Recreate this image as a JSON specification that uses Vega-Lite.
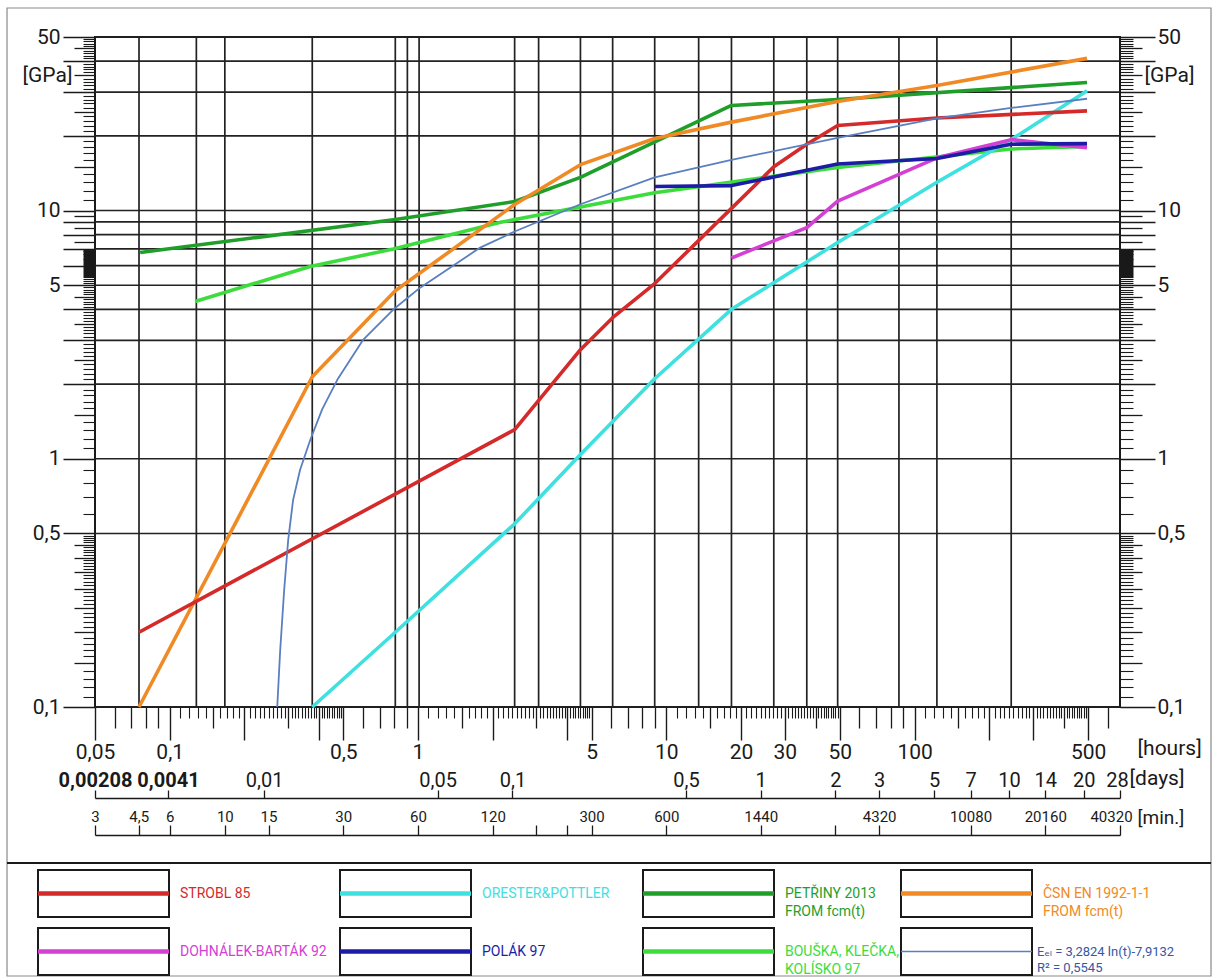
{
 "$schema": "https://vega.github.io/schema/vega-lite/v6.json",
 "width": 1025,
 "height": 670,
 "autosize": {"type": "none"},
 "padding": {"left": 95, "top": 37, "right": 98, "bottom": 270},
 "background": "white",
 "config": {
  "view": {"stroke": "#1a1a1a", "strokeWidth": 2},
  "axis": {"grid": false, "domain": false, "tickColor": "#1a1a1a", "tickWidth": 1.3, "labelFont": "Roboto, DejaVu Sans, sans-serif", "labelFontSize": 21, "labelColor": "#1a1a1a", "labelOverlap": false, "labelFlush": false, "labelBound": false, "titleFont": "Roboto, DejaVu Sans, sans-serif", "titleFontSize": 21, "titleFontWeight": "normal", "titleColor": "#1a1a1a", "titlePadding": 0}
 },
 "datasets": {
  "hgrid": [{"E":0.1},{"E":0.5},{"E":1},{"E":2},{"E":3},{"E":4},{"E":5},{"E":6},{"E":7},{"E":8},{"E":9},{"E":10},{"E":20},{"E":30},{"E":40},{"E":50}],
  "vgrid": [{"h":0.0752},{"h":0.128},{"h":0.1667},{"h":0.375},{"h":0.81},{"h":0.906},{"h":1.01},{"h":2.45},{"h":3.06},{"h":4.51},{"h":6.08},{"h":8.98},{"h":13.5},{"h":18.3},{"h":27.1},{"h":36.8},{"h":49},{"h":86.5},{"h":123},{"h":245}],
  "series": [
   {"s":"BOUŠKA, KLEČKA, KOLÍSKO 97","h":0.1265,"E":4.3},{"s":"BOUŠKA, KLEČKA, KOLÍSKO 97","h":0.368,"E":5.95},{"s":"BOUŠKA, KLEČKA, KOLÍSKO 97","h":0.795,"E":7.0},{"s":"BOUŠKA, KLEČKA, KOLÍSKO 97","h":2.15,"E":8.96},{"s":"BOUŠKA, KLEČKA, KOLÍSKO 97","h":8.98,"E":11.8},{"s":"BOUŠKA, KLEČKA, KOLÍSKO 97","h":49,"E":14.9},{"s":"BOUŠKA, KLEČKA, KOLÍSKO 97","h":245,"E":17.7},{"s":"BOUŠKA, KLEČKA, KOLÍSKO 97","h":495,"E":18.1},
   {"s":"PETŘINY 2013","h":0.076,"E":6.77},{"s":"PETŘINY 2013","h":0.81,"E":9.2},{"s":"PETŘINY 2013","h":2.45,"E":10.87},{"s":"PETŘINY 2013","h":4.51,"E":13.6},{"s":"PETŘINY 2013","h":18.3,"E":26.5},{"s":"PETŘINY 2013","h":49,"E":28.0},{"s":"PETŘINY 2013","h":495,"E":32.8},
   {"s":"ČSN EN 1992-1-1","h":0.0752,"E":0.1},{"s":"ČSN EN 1992-1-1","h":0.375,"E":2.14},{"s":"ČSN EN 1992-1-1","h":0.81,"E":4.75},{"s":"ČSN EN 1992-1-1","h":2.45,"E":10.57},{"s":"ČSN EN 1992-1-1","h":4.51,"E":15.3},{"s":"ČSN EN 1992-1-1","h":8.98,"E":19.5},{"s":"ČSN EN 1992-1-1","h":18.3,"E":22.7},{"s":"ČSN EN 1992-1-1","h":49,"E":27.5},{"s":"ČSN EN 1992-1-1","h":123,"E":31.9},{"s":"ČSN EN 1992-1-1","h":495,"E":41.0},
   {"s":"ORESTER&POTTLER","h":0.375,"E":0.1},{"s":"ORESTER&POTTLER","h":0.81,"E":0.2},{"s":"ORESTER&POTTLER","h":2.45,"E":0.547},{"s":"ORESTER&POTTLER","h":4.51,"E":1.04},{"s":"ORESTER&POTTLER","h":8.98,"E":2.1},{"s":"ORESTER&POTTLER","h":18.3,"E":4.0},{"s":"ORESTER&POTTLER","h":49,"E":7.43},{"s":"ORESTER&POTTLER","h":123,"E":13.0},{"s":"ORESTER&POTTLER","h":245,"E":19.3},{"s":"ORESTER&POTTLER","h":495,"E":30.4},
   {"s":"STROBL 85","h":0.0752,"E":0.2},{"s":"STROBL 85","h":2.45,"E":1.31},{"s":"STROBL 85","h":4.51,"E":2.75},{"s":"STROBL 85","h":6.08,"E":3.7},{"s":"STROBL 85","h":8.98,"E":5.08},{"s":"STROBL 85","h":18.3,"E":10.2},{"s":"STROBL 85","h":27.1,"E":15.0},{"s":"STROBL 85","h":36.8,"E":18.5},{"s":"STROBL 85","h":49,"E":22.0},{"s":"STROBL 85","h":123,"E":23.6},{"s":"STROBL 85","h":495,"E":25.2},
   {"s":"DOHNÁLEK-BARTÁK 92","h":18.3,"E":6.44},{"s":"DOHNÁLEK-BARTÁK 92","h":36.8,"E":8.53},{"s":"DOHNÁLEK-BARTÁK 92","h":49,"E":10.9},{"s":"DOHNÁLEK-BARTÁK 92","h":123,"E":16.3},{"s":"DOHNÁLEK-BARTÁK 92","h":245,"E":19.3},{"s":"DOHNÁLEK-BARTÁK 92","h":495,"E":17.9},
   {"s":"POLÁK 97","h":8.98,"E":12.5},{"s":"POLÁK 97","h":18.3,"E":12.6},{"s":"POLÁK 97","h":49,"E":15.4},{"s":"POLÁK 97","h":123,"E":16.2},{"s":"POLÁK 97","h":245,"E":18.5},{"s":"POLÁK 97","h":495,"E":18.6},
   {"s":"FIT","h":0.271,"E":0.1},{"s":"FIT","h":0.2786,"E":0.17},{"s":"FIT","h":0.289,"E":0.296},{"s":"FIT","h":0.3,"E":0.471},{"s":"FIT","h":0.314,"E":0.683},{"s":"FIT","h":0.335,"E":0.903},{"s":"FIT","h":0.368,"E":1.19},{"s":"FIT","h":0.411,"E":1.58},{"s":"FIT","h":0.473,"E":2.08},{"s":"FIT","h":0.602,"E":3.02},{"s":"FIT","h":0.795,"E":3.99},{"s":"FIT","h":1.02,"E":4.89},{"s":"FIT","h":1.78,"E":7.09},{"s":"FIT","h":2.45,"E":8.23},{"s":"FIT","h":4.51,"E":10.6},{"s":"FIT","h":8.98,"E":13.6},{"s":"FIT","h":18.3,"E":16.0},{"s":"FIT","h":49,"E":19.6},{"s":"FIT","h":123,"E":23.5},{"s":"FIT","h":245,"E":25.9},{"s":"FIT","h":495,"E":28.2}
  ],
  "legend": [
   {"s":"STROBL 85","label":"STROBL 85","col":0,"row":0},
   {"s":"ORESTER&POTTLER","label":"ORESTER&POTTLER","col":1,"row":0},
   {"s":"PETŘINY 2013","label":"PETŘINY 2013\nFROM fcm(t)","col":2,"row":0},
   {"s":"ČSN EN 1992-1-1","label":"ČSN EN 1992-1-1\nFROM fcm(t)","col":3,"row":0},
   {"s":"DOHNÁLEK-BARTÁK 92","label":"DOHNÁLEK-BARTÁK 92","col":0,"row":1},
   {"s":"POLÁK 97","label":"POLÁK 97","col":1,"row":1},
   {"s":"BOUŠKA, KLEČKA, KOLÍSKO 97","label":"BOUŠKA, KLEČKA,\nKOLÍSKO 97","col":2,"row":1},
   {"s":"FIT","label":"Eₑₗ = 3,2824 ln(t)-7,9132\nR² = 0,5545","col":3,"row":1}
  ]
 },
 "layer": [
  {
   "resolve": {"axis": {"x": "independent", "y": "independent"}},
   "layer": [
    {
     "data": {"name": "hgrid"},
     "mark": {"type": "rule", "stroke": "#222222", "strokeWidth": 1.7},
     "encoding": {"y": {"field": "E", "type": "quantitative", "scale": {"type": "log", "domain": [0.1, 50], "nice": false},
      "axis": {"orient": "left", "title": null, "values": [0.1,0.5,1,2,3,4,5,6,7,8,9,10,20,30,40,50], "tickSize": 32, "tickWidth": 1.7, "labelPadding": 3,
       "labelExpr": "indexof([0.1,0.5,1,5,10,50], datum.value) >= 0 ? replace(format(datum.value,'~g'),'.',',') : ''"}}}
    },
    {
     "data": {"name": "vgrid"},
     "mark": {"type": "rule", "stroke": "#222222", "strokeWidth": 1.7},
     "encoding": {"x": {"field": "h", "type": "quantitative", "scale": {"type": "log", "domain": [0.05, 672], "nice": false},
      "axis": {"orient": "bottom", "offset": 91, "title": "[days]", "titleX": 1034, "titleY": -20, "titleAlign": "left", "titleBaseline": "middle",
       "values": [0.05,0.0984,0.24,1.2,2.4,12,24,48,72,120,168,240,336,480,672], "ticks": false, "domain": true, "domainColor": "#1a1a1a", "domainWidth": 1.6,
       "labelPadding": -12, "labelBaseline": "alphabetic", "labelFontSize": 20,
       "labelOffset": {"condition": {"test": "datum.value > 600", "value": -3}, "value": 0},
       "labelFontWeight": {"condition": {"test": "datum.value < 0.11", "value": "bold"}, "value": "normal"},
       "labelExpr": "replace(format(datum.value/24,'.3~r'),'.',',')"}}}
    },
    {
     "data": {"name": "vgrid"},
     "mark": {"type": "rule", "opacity": 0},
     "encoding": {"x": {"field": "h", "type": "quantitative", "scale": {"type": "log", "domain": [0.05, 672], "nice": false},
      "axis": {"orient": "bottom", "offset": 91, "title": null, "labels": false, "tickSize": -8, "tickWidth": 1.3,
       "values": [0.05,0.0984,0.24,1.2,2.4,12,24,48,72,120,168,240,336,480,672]}}}
    },
    {
     "data": {"name": "vgrid"},
     "mark": {"type": "rule", "opacity": 0},
     "encoding": {"x": {"field": "h", "type": "quantitative", "scale": {"type": "log", "domain": [0.05, 672], "nice": false},
      "axis": {"orient": "bottom", "offset": 128, "title": "[min.]", "titleX": 1042, "titleY": -18, "titleAlign": "left", "titleBaseline": "middle", "titleFontSize": 19,
       "ticks": false, "domain": true, "domainColor": "#1a1a1a", "domainWidth": 1.6,
       "labelPadding": -14, "labelBaseline": "alphabetic", "labelFontSize": 15,
       "labelOffset": {"condition": {"test": "datum.value > 600", "value": -9}, "value": 0},
       "values": [0.05,0.075,0.1,0.16667,0.25,0.5,1,2,5,10,24,72,168,336,672],
       "labelExpr": "replace(format(round(datum.value*600)/10,'~g'),'.',',')"}}}
    },
    {
     "data": {"name": "vgrid"},
     "mark": {"type": "rule", "opacity": 0},
     "encoding": {"x": {"field": "h", "type": "quantitative", "scale": {"type": "log", "domain": [0.05, 672], "nice": false},
      "axis": {"orient": "bottom", "offset": 128, "title": null, "labels": false, "tickSize": -10, "tickWidth": 1.3,
       "values": [0.05,0.075,0.1,0.16667,0.25,0.5,1,2,3,4,5,10,24,48,72,168,336,672]}}}
    },
    {
     "data": {"name": "vgrid"},
     "mark": {"type": "rule", "opacity": 0},
     "encoding": {"x": {"field": "h", "type": "quantitative", "scale": {"type": "log", "domain": [0.05, 672], "nice": false},
      "axis": {"orient": "bottom", "title": null, "labels": false, "tickSize": 21, "tickWidth": 1.3,
       "values": [0.06,0.07,0.08,0.09,0.15,0.3,0.6,0.7,0.8,0.9,1.5,3,6,7,8,9,15,40,60,70,80,90,150,400,600]}}}
    },
    {
     "data": {"name": "vgrid"},
     "mark": {"type": "rule", "opacity": 0},
     "encoding": {"x": {"field": "h", "type": "quantitative", "scale": {"type": "log", "domain": [0.05, 672], "nice": false},
      "axis": {"orient": "bottom", "title": null, "labels": false, "tickSize": 11, "tickWidth": 1.1,
       "values": [0.11,0.12,0.13,0.14,0.16,0.17,0.18,0.19,0.21,0.22,0.23,0.24,0.25,0.26,0.27,0.28,0.29,0.31,0.32,0.33,0.34,0.35,0.36,0.37,0.38,0.39,0.41,0.42,0.43,0.44,0.45,0.46,0.47,0.48,0.49,1.1,1.2,1.3,1.4,1.6,1.7,1.8,1.9,2.1,2.2,2.3,2.4,2.5,2.6,2.7,2.8,2.9,3.1,3.2,3.3,3.4,3.5,3.6,3.7,3.8,3.9,4.1,4.2,4.3,4.4,4.5,4.6,4.7,4.8,4.9,11,12,13,14,16,17,18,19,21,22,23,24,25,26,27,28,29,31,32,33,34,35,36,37,38,39,41,42,43,44,45,46,47,48,49,110,120,130,140,160,170,180,190,210,220,230,240,250,260,270,280,290,310,320,330,340,350,360,370,380,390,410,420,430,440,450,460,470,480,490]}}}
    },
    {
     "data": {"name": "hgrid"},
     "mark": {"type": "rule", "opacity": 0},
     "encoding": {"y": {"field": "E", "type": "quantitative", "scale": {"type": "log", "domain": [0.1, 50], "nice": false},
      "axis": {"orient": "left", "title": null, "tickSize": 21, "tickWidth": 1.3, "labelPadding": 2,
       "values": [0.15,0.2,0.25,0.3,0.35,0.4,0.45,1.5,2.5,3.5,4.5,7.5,8.5,9.5,15,25,35,45],
       "labelExpr": "datum.value == 35 ? '[GPa]' : ''"}}}
    },
    {
     "data": {"name": "hgrid"},
     "mark": {"type": "rule", "opacity": 0},
     "encoding": {"y": {"field": "E", "type": "quantitative", "scale": {"type": "log", "domain": [0.1, 50], "nice": false},
      "axis": {"orient": "left", "title": null, "labels": false, "tickSize": 12, "tickWidth": 1.1,
       "values": [0.11,0.12,0.13,0.14,0.16,0.17,0.18,0.19,0.21,0.22,0.23,0.24,0.26,0.27,0.28,0.29,0.31,0.32,0.33,0.34,0.36,0.37,0.38,0.39,0.41,0.42,0.43,0.44,0.46,0.47,0.48,0.49,0.6,0.7,0.8,0.9,1.1,1.2,1.3,1.4,1.6,1.7,1.8,1.9,2.1,2.2,2.3,2.4,2.6,2.7,2.8,2.9,3.1,3.2,3.3,3.4,3.6,3.7,3.8,3.9,4.1,4.2,4.3,4.4,4.6,4.7,4.8,4.9,5.1,5.2,5.3,5.4,5.45,5.5,5.55,5.6,5.65,5.7,5.75,5.8,5.85,5.9,5.95,6.05,6.1,6.15,6.2,6.25,6.3,6.35,6.4,6.45,6.5,6.55,6.6,6.65,6.7,6.75,6.8,6.85,6.9,6.95,11,12,13,14,16,17,18,19,21,22,23,24,26,27,28,29,31,32,33,34,36,37,38,39,41,42,43,44,46,47,48,49]}}}
    },
    {
     "data": {"name": "hgrid"},
     "mark": {"type": "rule", "opacity": 0},
     "encoding": {"y": {"field": "E", "type": "quantitative", "scale": {"type": "log", "domain": [0.1, 50], "nice": false},
      "axis": {"orient": "right", "title": null, "tickSize": 22, "tickWidth": 1.3, "labelPadding": 2,
       "values": [0.15,0.2,0.25,0.3,0.35,0.4,0.45,1.5,2.5,3.5,4.5,7.5,8.5,9.5,15,25,35,45],
       "labelExpr": "datum.value == 35 ? '[GPa]' : ''"}}}
    },
    {
     "data": {"name": "hgrid"},
     "mark": {"type": "rule", "opacity": 0},
     "encoding": {"y": {"field": "E", "type": "quantitative", "scale": {"type": "log", "domain": [0.1, 50], "nice": false},
      "axis": {"orient": "right", "title": null, "labels": false, "tickSize": 13, "tickWidth": 1.1,
       "values": [0.11,0.12,0.13,0.14,0.16,0.17,0.18,0.19,0.21,0.22,0.23,0.24,0.26,0.27,0.28,0.29,0.31,0.32,0.33,0.34,0.36,0.37,0.38,0.39,0.41,0.42,0.43,0.44,0.46,0.47,0.48,0.49,0.6,0.7,0.8,0.9,1.1,1.2,1.3,1.4,1.6,1.7,1.8,1.9,2.1,2.2,2.3,2.4,2.6,2.7,2.8,2.9,3.1,3.2,3.3,3.4,3.6,3.7,3.8,3.9,4.1,4.2,4.3,4.4,4.6,4.7,4.8,4.9,5.1,5.2,5.3,5.4,5.45,5.5,5.55,5.6,5.65,5.7,5.75,5.8,5.85,5.9,5.95,6.05,6.1,6.15,6.2,6.25,6.3,6.35,6.4,6.45,6.5,6.55,6.6,6.65,6.7,6.75,6.8,6.85,6.9,6.95,11,12,13,14,16,17,18,19,21,22,23,24,26,27,28,29,31,32,33,34,36,37,38,39,41,42,43,44,46,47,48,49]}}}
    },
    {
     "data": {"name": "series"},
     "mark": {"type": "line", "strokeJoin": "round", "strokeCap": "butt"},
     "encoding": {
      "x": {"field": "h", "type": "quantitative", "scale": {"type": "log", "domain": [0.05, 672], "nice": false},
       "axis": {"orient": "bottom", "title": "[hours]", "titleX": 1042, "titleY": 41, "titleAlign": "left", "titleBaseline": "middle",
        "values": [0.05,0.1,0.2,0.4,0.5,1,2,4,5,10,20,30,50,100,200,300,500], "tickSize": 33, "tickWidth": 1.4, "labelPadding": 1,
        "labelExpr": "indexof([0.05,0.1,0.5,1,5,10,20,30,50,100,500], datum.value) >= 0 ? replace(format(datum.value,'~g'),'.',',') : ''"}},
      "y": {"field": "E", "type": "quantitative", "scale": {"type": "log", "domain": [0.1, 50], "nice": false},
       "axis": {"orient": "right", "title": null, "values": [0.1,0.5,1,2,3,4,5,6,7,8,9,10,20,30,40,50], "tickSize": 35, "tickWidth": 1.7, "labelPadding": 2,
        "labelExpr": "indexof([0.1,0.5,1,5,10,50], datum.value) >= 0 ? replace(format(datum.value,'~g'),'.',',') : ''"}},
      "color": {"field": "s", "type": "nominal", "legend": null,
       "scale": {"domain": ["BOUŠKA, KLEČKA, KOLÍSKO 97","PETŘINY 2013","ČSN EN 1992-1-1","ORESTER&POTTLER","STROBL 85","DOHNÁLEK-BARTÁK 92","POLÁK 97","FIT"],
                 "range": ["#3ddc3d","#1f9e2a","#ef8a25","#3ee0e0","#d42a2a","#d43fd4","#1c1ca6","#5a7fc0"]}},
      "strokeWidth": {"condition": {"test": "datum.s === 'FIT'", "value": 1.8}, "value": 3.6}
     }
    }
   ]
  },
  {
   "data": {"name": "legend"},
   "layer": [
    {
     "transform": [{"filter": "datum.col == 0 && datum.row == 0"}],
     "mark": {"type": "rect", "filled": false, "stroke": "#8a8a8a", "strokeWidth": 1.2},
     "encoding": {
      "x": {"datum": -0.1026, "type": "quantitative", "scale": {"type": "linear", "domain": [0,1,2,3], "range": [-57,245,548,806], "nice": false, "zero": false}, "axis": null},
      "x2": {"datum": 4.2016},
      "y": {"datum": -14.862, "type": "quantitative", "scale": {"type": "linear", "domain": [0,1], "range": [833,891], "nice": false, "zero": false}, "axis": null},
      "y2": {"datum": 1.8276}
     }
    },
    {
     "transform": [{"filter": "datum.col == 0 && datum.row == 0"}],
     "mark": {"type": "rule", "stroke": "#1a1a1a", "strokeWidth": 2.2},
     "encoding": {
      "x": {"datum": -0.1026, "type": "quantitative", "scale": {"type": "linear", "domain": [0,1,2,3], "range": [-57,245,548,806], "nice": false, "zero": false}, "axis": null},
      "x2": {"datum": 4.2016},
      "y": {"datum": -0.1207, "type": "quantitative", "scale": {"type": "linear", "domain": [0,1], "range": [833,891], "nice": false, "zero": false}, "axis": null}
     }
    },
    {
     "mark": {"type": "rect", "fill": "white", "stroke": "#1a1a1a", "strokeWidth": 2, "x2Offset": 131, "y2Offset": 47},
     "encoding": {
      "x": {"field": "col", "type": "quantitative", "scale": {"type": "linear", "domain": [0,1,2,3], "range": [-57,245,548,806], "nice": false, "zero": false}, "axis": null},
      "x2": {"field": "col"},
      "y": {"field": "row", "type": "quantitative", "scale": {"type": "linear", "domain": [0,1], "range": [833,891], "nice": false, "zero": false}, "axis": null},
      "y2": {"field": "row"}
     }
    },
    {
     "mark": {"type": "rule", "x2Offset": 131, "yOffset": 23.5},
     "encoding": {
      "x": {"field": "col", "type": "quantitative", "scale": {"type": "linear", "domain": [0,1,2,3], "range": [-57,245,548,806], "nice": false, "zero": false}, "axis": null},
      "x2": {"field": "col"},
      "y": {"field": "row", "type": "quantitative", "scale": {"type": "linear", "domain": [0,1], "range": [833,891], "nice": false, "zero": false}, "axis": null},
      "color": {"field": "s", "type": "nominal", "legend": null},
      "strokeWidth": {"condition": {"test": "datum.s === 'FIT'", "value": 1.5}, "value": 4.5}
     }
    },
    {
     "transform": [{"filter": "datum.s !== 'FIT'"}],
     "mark": {"type": "text", "align": "left", "baseline": "middle", "lineBreak": "\n", "lineHeight": 18, "xOffset": 142, "yOffset": 24, "font": "Roboto, DejaVu Sans, sans-serif", "fontSize": 14},
     "encoding": {
      "x": {"field": "col", "type": "quantitative", "scale": {"type": "linear", "domain": [0,1,2,3], "range": [-57,245,548,806], "nice": false, "zero": false}, "axis": null},
      "y": {"field": "row", "type": "quantitative", "scale": {"type": "linear", "domain": [0,1], "range": [833,891], "nice": false, "zero": false}, "axis": null},
      "text": {"field": "label"},
      "color": {"field": "s", "type": "nominal", "legend": null}
     }
    },
    {
     "transform": [{"filter": "datum.s === 'FIT'"}],
     "mark": {"type": "text", "align": "left", "baseline": "middle", "lineBreak": "\n", "lineHeight": 16, "xOffset": 136, "yOffset": 23.5, "font": "Roboto, DejaVu Sans, sans-serif", "fontSize": 13, "fill": "#3557a5"},
     "encoding": {
      "x": {"field": "col", "type": "quantitative", "scale": {"type": "linear", "domain": [0,1,2,3], "range": [-57,245,548,806], "nice": false, "zero": false}, "axis": null},
      "y": {"field": "row", "type": "quantitative", "scale": {"type": "linear", "domain": [0,1], "range": [833,891], "nice": false, "zero": false}, "axis": null},
      "text": {"field": "label"}
     }
    }
   ]
  }
 ],
 "resolve": {"scale": {"x": "independent", "y": "independent"}}
}
